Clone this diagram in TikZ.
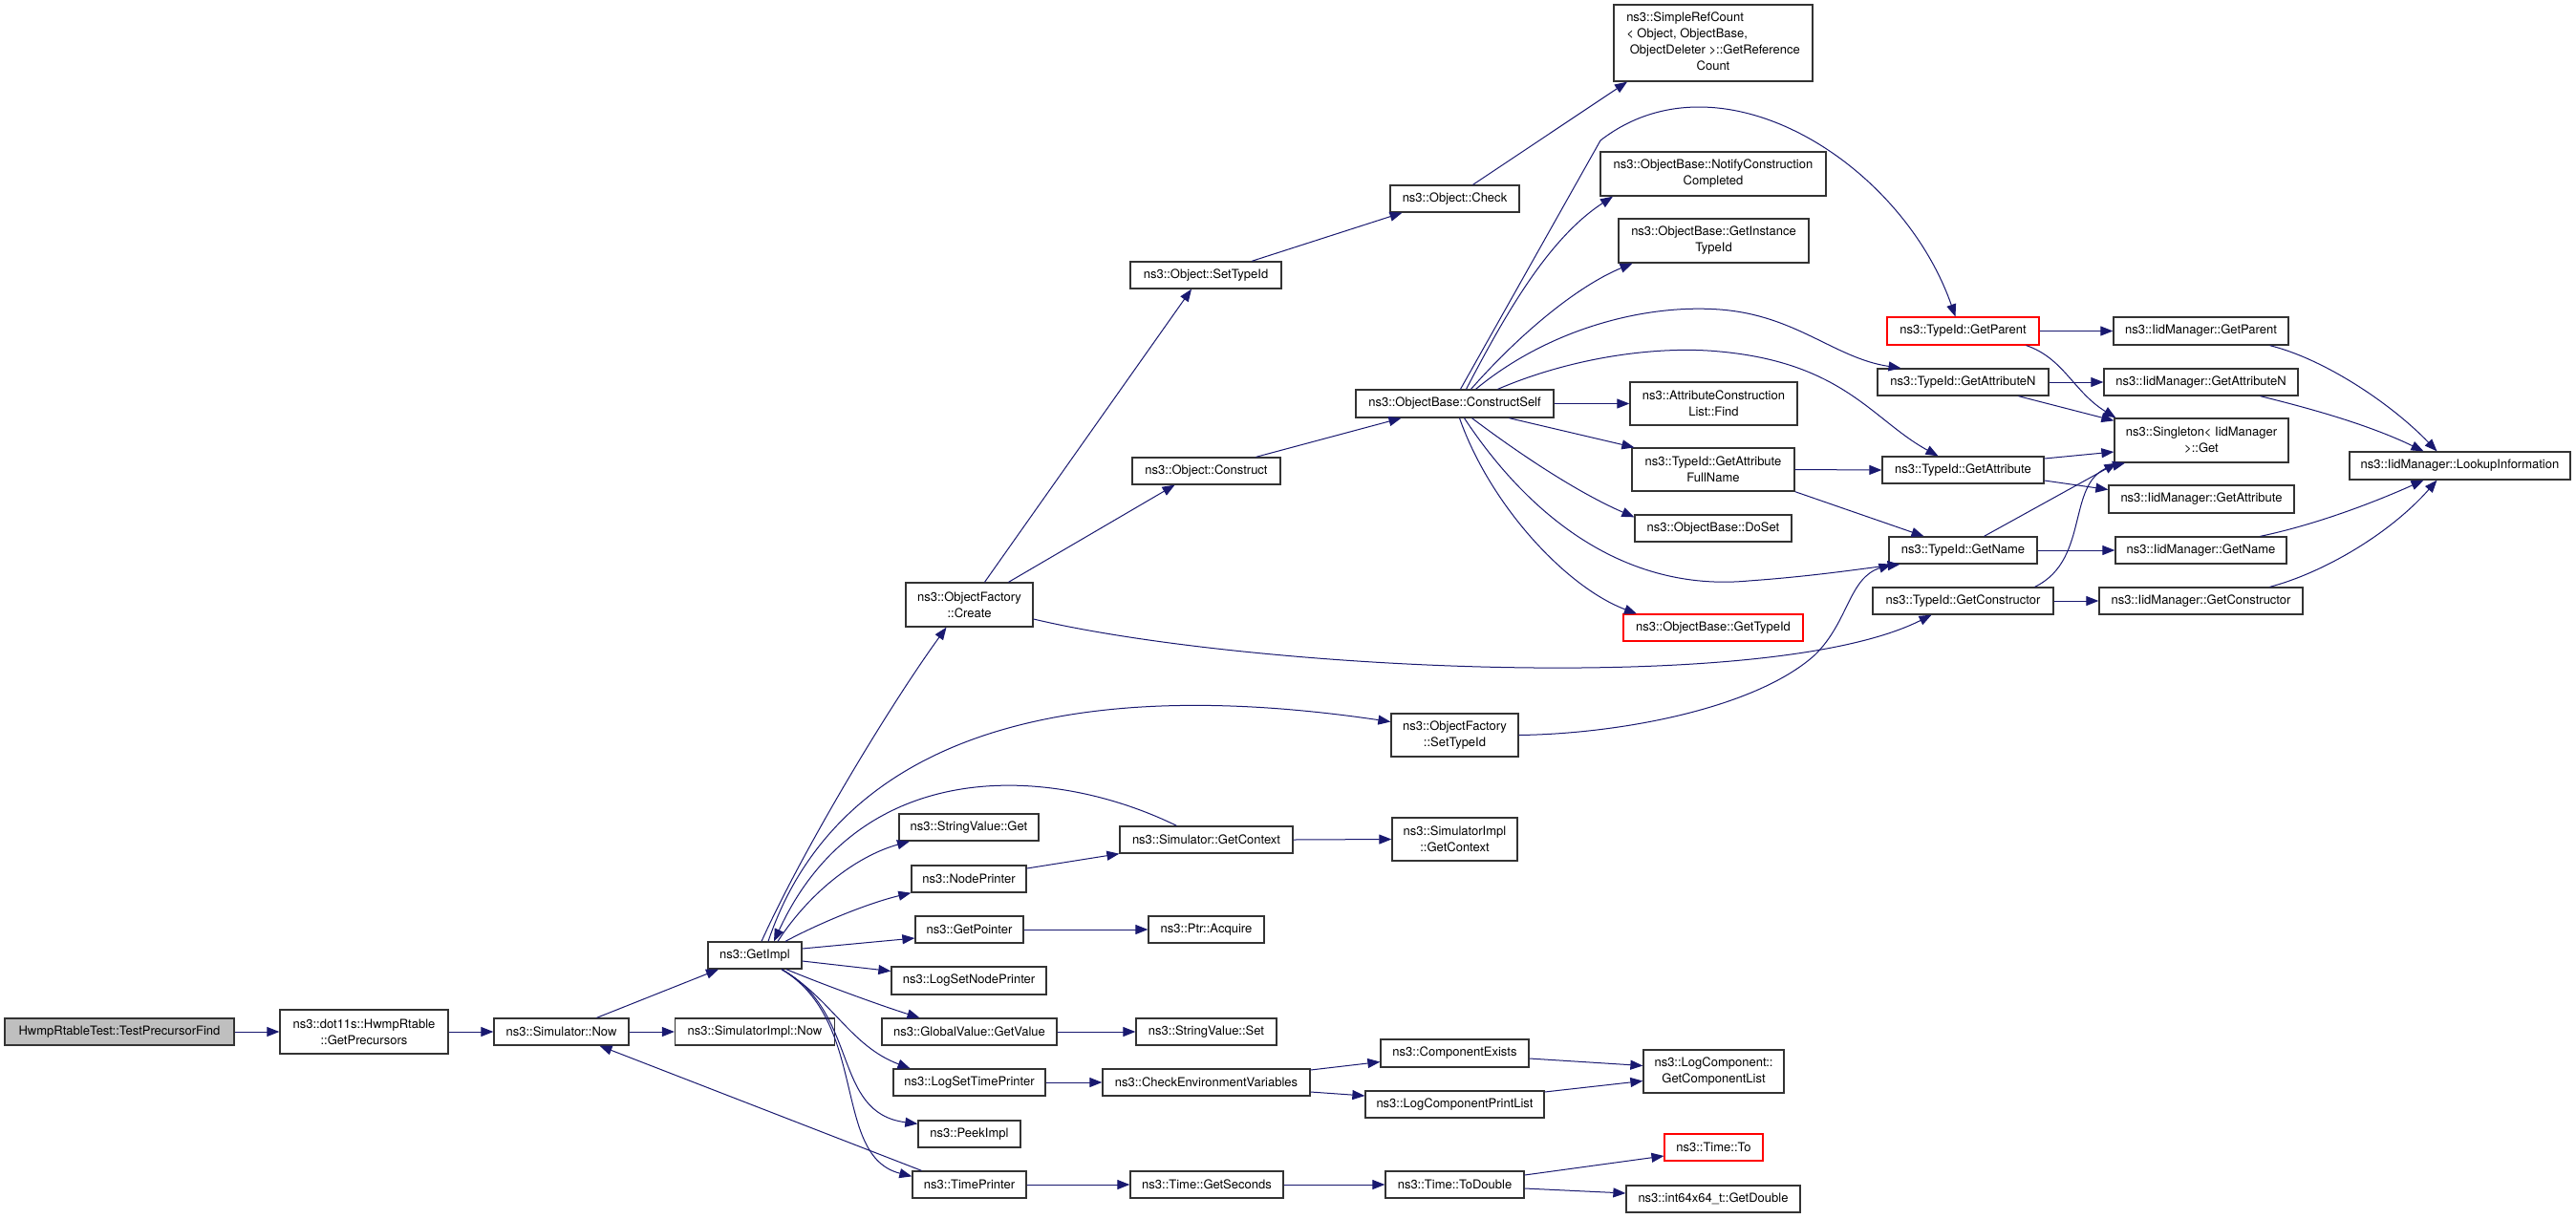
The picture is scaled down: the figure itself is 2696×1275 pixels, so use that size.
\documentclass[tikz,border=0pt]{standalone}
\usepackage{fontspec}
\setmainfont{TeX Gyre Heros}
\usetikzlibrary{arrows.meta}
\definecolor{edgecol}{HTML}{191970}
\definecolor{boxcol}{HTML}{333333}
\definecolor{rootgray}{HTML}{BFBFBF}
\tikzset{
  fn/.style={draw=boxcol, line width=1.3pt, fill=white, inner sep=0pt, align=center,
             font=\fontsize{13}{17}\selectfont, text=black},
  root/.style={fn, fill=rootgray},
  redbox/.style={fn, draw=red, line width=1.1pt},
  sz/.style 2 args={minimum width=#1pt, minimum height=#2pt},
  call/.style={draw=edgecol, line width=1.0pt, -{Triangle[length=13pt,width=10pt]}},
}
\begin{document}
\begin{tikzpicture}[x=1pt, y=-1pt]
\useasboundingbox[fill=white] (0,0) rectangle (2696,1275);

% rank 0-3
\node[root, sz={240}{28}] (tpf) at (125,1080) {HwmpRtableTest::TestPrecursorFind};
\node[fn, sz={176}{46}] (gp) at (381,1080) {ns3::dot11s::HwmpRtable\\::GetPrecursors};
\node[fn, sz={141}{28}] (snow) at (587.5,1080) {ns3::Simulator::Now};
\node[fn, sz={98}{28}] (getimpl) at (790,1000) {ns3::GetImpl};
\node[fn, sz={167}{28}] (simimplnow) at (790,1080) {ns3::SimulatorImpl::Now};
% rank 4
\node[fn, sz={133}{46}] (ofcreate) at (1014.5,633) {ns3::ObjectFactory\\::Create};
\node[fn, sz={146}{28}] (svget) at (1014,866) {ns3::StringValue::Get};
\node[fn, sz={120}{28}] (nodeprinter) at (1014,920) {ns3::NodePrinter};
\node[fn, sz={113}{28}] (getpointer) at (1014.5,973) {ns3::GetPointer};
\node[fn, sz={162}{29}] (logsetnp) at (1014,1026.5) {ns3::LogSetNodePrinter};
\node[fn, sz={183}{28}] (gvgetvalue) at (1014.5,1080) {ns3::GlobalValue::GetValue};
\node[fn, sz={159}{28}] (logsettp) at (1014.5,1133) {ns3::LogSetTimePrinter};
\node[fn, sz={107}{28}] (peekimpl) at (1014.5,1187) {ns3::PeekImpl};
\node[fn, sz={119}{28}] (timeprinter) at (1014.5,1240) {ns3::TimePrinter};
% rank 5
\node[fn, sz={158}{28}] (osettypeid) at (1262,288) {ns3::Object::SetTypeId};
\node[fn, sz={155}{28}] (oconstruct) at (1262.5,493) {ns3::Object::Construct};
\node[fn, sz={181}{28}] (sgetcontext) at (1262.5,879) {ns3::Simulator::GetContext};
\node[fn, sz={121}{28}] (ptracquire) at (1262.5,973) {ns3::Ptr::Acquire};
\node[fn, sz={147}{28}] (svset) at (1262.5,1080) {ns3::StringValue::Set};
\node[fn, sz={217}{28}] (checkenv) at (1262.5,1133) {ns3::CheckEnvironmentVariables};
\node[fn, sz={160}{28}] (getseconds) at (1263,1240) {ns3::Time::GetSeconds};
% rank 6
\node[fn, sz={135}{28}] (ocheck) at (1522.5,208) {ns3::Object::Check};
\node[fn, sz={207}{29}] (cself) at (1522.5,422.5) {ns3::ObjectBase::ConstructSelf};
\node[fn, sz={133}{45}] (ofsettypeid) at (1522.5,769.5) {ns3::ObjectFactory\\::SetTypeId};
\node[fn, sz={131}{45}] (simimplctx) at (1522.5,878.5) {ns3::SimulatorImpl\\::GetContext};
\node[fn, sz={155}{29}] (compexists) at (1522.5,1102.5) {ns3::ComponentExists};
\node[fn, sz={187}{28}] (lcprint) at (1522.5,1156) {ns3::LogComponentPrintList};
\node[fn, sz={145}{28}] (todouble) at (1522.5,1240) {ns3::Time::ToDouble};
% rank 7
\node[fn, sz={208}{80}] (srefcount) at (1793,45) {\begin{tabular}{@{}l@{}}ns3::SimpleRefCount\\< Object, ObjectBase,\\\ ObjectDeleter >::GetReference\\\multicolumn{1}{@{}c@{}}{Count}\end{tabular}};
\node[fn, sz={236}{46}] (notify) at (1793,182) {ns3::ObjectBase::NotifyConstruction\\Completed};
\node[fn, sz={199}{46}] (getinst) at (1793.5,252) {ns3::ObjectBase::GetInstance\\TypeId};
\node[fn, sz={175}{45}] (attrfind) at (1793.5,422.5) {ns3::AttributeConstruction\\List::Find};
\node[fn, sz={170}{45}] (fullname) at (1793,491.5) {ns3::TypeId::GetAttribute\\FullName};
\node[fn, sz={164}{28}] (doset) at (1793,553) {ns3::ObjectBase::DoSet};
\node[redbox, sz={188}{28}] (obtypeid) at (1793,657) {ns3::ObjectBase::GetTypeId};
\node[fn, sz={147}{45}] (complist) at (1793.5,1121.5) {ns3::LogComponent::\\GetComponentList};
\node[redbox, sz={103}{28}] (timeto) at (1793.5,1201) {ns3::Time::To};
\node[fn, sz={182}{28}] (getdouble) at (1793,1255) {ns3::int64x64\_t::GetDouble};
% rank 8
\node[redbox, sz={159}{29}] (tparent) at (2054.5,346.5) {ns3::TypeId::GetParent};
\node[fn, sz={179}{28}] (tattrn) at (2054.5,400) {ns3::TypeId::GetAttributeN};
\node[fn, sz={169}{28}] (tattr) at (2054.5,492) {ns3::TypeId::GetAttribute};
\node[fn, sz={155}{28}] (tname) at (2054.5,576) {ns3::TypeId::GetName};
\node[fn, sz={189}{28}] (tctor) at (2054.5,629) {ns3::TypeId::GetConstructor};
% rank 9
\node[fn, sz={183}{29}] (iparent) at (2303.5,346.5) {ns3::IidManager::GetParent};
\node[fn, sz={203}{28}] (iattrn) at (2303.5,400) {ns3::IidManager::GetAttributeN};
\node[fn, sz={182}{46}] (singleton) at (2304,461) {ns3::Singleton< IidManager\\>::Get};
\node[fn, sz={194}{29}] (iattr) at (2304,522.5) {ns3::IidManager::GetAttribute};
\node[fn, sz={179}{28}] (iname) at (2303.5,576) {ns3::IidManager::GetName};
\node[fn, sz={213}{28}] (ictor) at (2303.5,629) {ns3::IidManager::GetConstructor};
% rank 10
\node[fn, sz={231}{29}] (lookup) at (2574.5,487.5) {ns3::IidManager::LookupInformation};

% edges
\draw[call] (tpf.east) -- (gp.west);
\draw[call] (gp.east) -- (snow.west);
\draw[call] ([xshift=37pt]snow.north) -- ([xshift=-38pt]getimpl.south);
\draw[call] (snow.east) -- (simimplnow.west);
\draw[call] ([xshift=-50pt]timeprinter.north) -- ([xshift=40pt]snow.south);
\draw[call] ([xshift=7pt]getimpl.north) .. controls (840,890) and (930,740) .. ([xshift=-24pt]ofcreate.south);
\draw[call] ([xshift=14pt]getimpl.north) .. controls (870,790) and (1080,700) .. ([yshift=14pt]ofsettypeid.west);
\draw[call] ([xshift=-31pt]sgetcontext.north) .. controls (1100,800) and (900,790) .. ([xshift=20pt]getimpl.north);
\draw[call] ([xshift=24pt]getimpl.north) .. controls (850,930) and (900,895) .. ([xshift=-62pt]svget.south);
\draw[call] ([xshift=32pt]getimpl.north) .. controls (860,965) and (910,945) .. (nodeprinter.south west);
\draw[call] ([yshift=7pt]getimpl.east) -- ([yshift=-9pt]getpointer.west);
\draw[call] ([yshift=-6pt]getimpl.east) -- ([yshift=10pt]logsetnp.west);
\draw[call] ([xshift=33pt]getimpl.south) .. controls (860,1030) and (920,1052) .. ([xshift=-52pt]gvgetvalue.north);
\draw[call] ([xshift=28pt]getimpl.south) .. controls (870,1045) and (890,1095) .. ([xshift=-62pt]logsettp.north);
\draw[call] ([xshift=28pt]getimpl.south) .. controls (900,1060) and (870,1165) .. ([yshift=-4pt]peekimpl.north west);
\draw[call] ([xshift=28pt]getimpl.south) .. controls (910,1070) and (870,1210) .. ([yshift=-6pt]timeprinter.north west);
\draw[call] (gvgetvalue.east) -- (svset.west);
\draw[call] (logsettp.east) -- (checkenv.west);
\draw[call] (timeprinter.east) -- (getseconds.west);
\draw[call] (getseconds.east) -- (todouble.west);
\draw[call] ([yshift=10pt]todouble.east) -- ([yshift=-9pt]timeto.west);
\draw[call] ([yshift=-4pt]todouble.east) -- ([yshift=6pt]getdouble.west);
\draw[call] ([yshift=13pt]checkenv.east) -- ([yshift=-9pt]compexists.west);
\draw[call] ([yshift=-10pt]checkenv.east) -- ([yshift=9pt]lcprint.west);
\draw[call] ([yshift=-5.5pt]compexists.east) -- ([yshift=6pt]complist.west);
\draw[call] ([yshift=13pt]lcprint.east) -- ([yshift=-10pt]complist.west);
\draw[call] (sgetcontext.east) -- (simimplctx.west);
\draw[call] ([yshift=11pt]nodeprinter.east) -- (sgetcontext.south west);
\draw[call] (getpointer.east) -- (ptracquire.west);
\draw[call] ([xshift=16pt]ofcreate.north) -- ([xshift=-15pt]osettypeid.south);
\draw[call] ([xshift=41pt]ofcreate.north) -- ([xshift=-33pt]oconstruct.south);
\draw[call] ([yshift=-15pt]ofcreate.east) .. controls (1300,700) and (1850,730) .. ([xshift=-33pt]tctor.south);
\draw[call] ([xshift=48pt]osettypeid.north) -- ([xshift=-55pt]ocheck.south);
\draw[call] ([xshift=19pt]ocheck.north) -- ([xshift=-90pt]srefcount.south);
\draw[call] ([xshift=52pt]oconstruct.north) -- ([xshift=-56pt]cself.south);
\draw[call] ([xshift=12pt]cself.north) .. controls (1575,330) and (1620,250) .. ([xshift=-105pt]notify.south);
\draw[call] ([xshift=17pt]cself.north) .. controls (1590,350) and (1650,300) .. ([xshift=-85pt]getinst.south);
\draw[call] ([xshift=6pt]cself.north) -- (1675,147) .. controls (1800,50) and (1990,170) .. ([xshift=-8pt]tparent.north);
\draw[call] ([xshift=22pt]cself.north) .. controls (1620,345) and (1720,318) .. (1800,324) .. controls (1880,330) and (1920,375) .. ([xshift=-65pt]tattrn.north);
\draw[call] ([xshift=45pt]cself.north) .. controls (1650,372) and (1740,362) .. (1800,368) .. controls (1930,380) and (1960,440) .. ([xshift=-26pt]tattr.north);
\draw[call] (cself.east) -- (attrfind.west);
\draw[call] ([xshift=57pt]cself.south) -- ([xshift=3pt]fullname.north west);
\draw[call] ([xshift=18pt]cself.south) .. controls (1590,475) and (1650,515) .. ([yshift=-3pt]doset.north west);
\draw[call] ([xshift=10pt]cself.south) .. controls (1600,540) and (1700,620) .. (1830,608) .. controls (1900,603) and (1950,595) .. ([xshift=-66pt]tname.south);
\draw[call] ([xshift=5pt]cself.south) .. controls (1560,530) and (1640,615) .. ([xshift=-80pt]obtypeid.north);
\draw[call] (fullname.east) -- (tattr.west);
\draw[call] (fullname.south east) -- ([xshift=-41pt]tname.north);
\draw[call] (ofsettypeid.east) .. controls (1700,768) and (1840,740) .. (1900,685) .. controls (1935,650) and (1935,605) .. ([xshift=-75pt]tname.south);
\draw[call] (tparent.east) -- (iparent.west);
\draw[call] ([xshift=66pt]tparent.south) .. controls (2160,375) and (2170,410) .. ([xshift=2pt]singleton.north west);
\draw[call] (tattrn.east) -- (iattrn.west);
\draw[call] ([xshift=58pt]tattrn.south) -- ([yshift=-3pt]singleton.north west);
\draw[call] ([yshift=12pt]tattr.east) -- ([yshift=-12pt]singleton.west);
\draw[call] ([yshift=-11pt]tattr.east) -- ([yshift=10pt]iattr.west);
\draw[call] ([xshift=22pt]tname.north) -- ([xshift=3pt]singleton.south west);
\draw[call] (tname.east) -- (iname.west);
\draw[call] ([xshift=75pt]tctor.north) .. controls (2190,585) and (2160,500) .. ([xshift=-80pt]singleton.south);
\draw[call] (tctor.east) -- (ictor.west);
\draw[call] ([xshift=72pt]iparent.south) .. controls (2430,375) and (2500,420) .. ([xshift=-24pt]lookup.north);
\draw[call] ([xshift=62pt]iattrn.south) .. controls (2420,428) and (2480,445) .. ([xshift=-38pt]lookup.north);
\draw[call] ([xshift=62pt]iname.north) .. controls (2420,550) and (2480,528) .. ([xshift=-38pt]lookup.south);
\draw[call] ([xshift=72pt]ictor.north) .. controls (2430,600) and (2500,560) .. ([xshift=-24pt]lookup.south);
\end{tikzpicture}
\end{document}
